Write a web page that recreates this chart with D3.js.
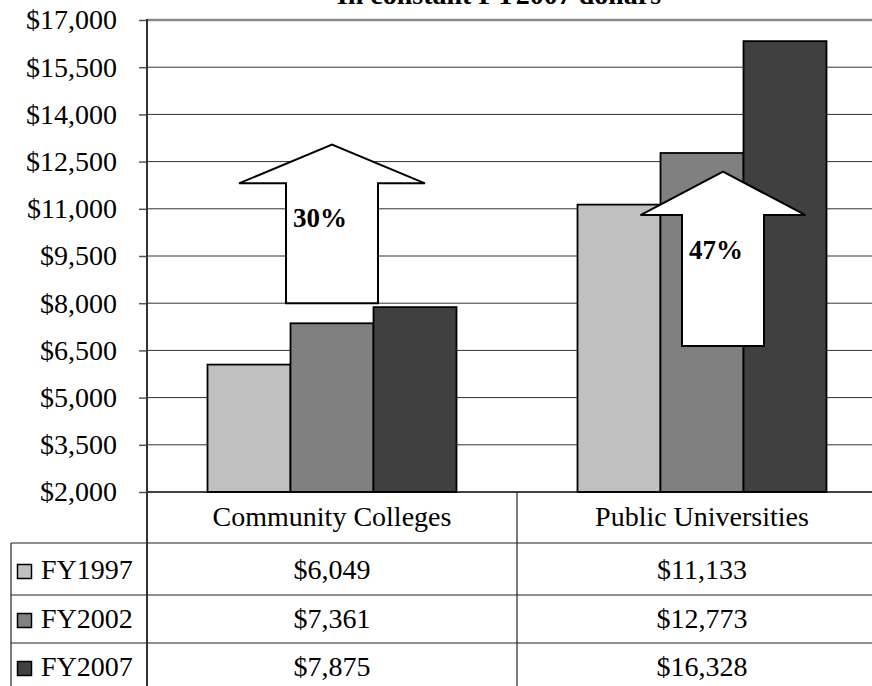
<!DOCTYPE html>
<html>
<head>
<meta charset="utf-8">
<script src="https://cdn.jsdelivr.net/npm/d3@7"></script>
<style>
  html, body { margin: 0; padding: 0; background: #fff; overflow: hidden; }
  svg { display: block; font-family: "Liberation Serif", "Times New Roman", serif; }
</style>
</head>
<body>
<svg id="chart" width="872" height="686"></svg>
<script>
// ---- data ----
const titleText = "In constant FY2007 dollars";
const categories = ["Community Colleges", "Public Universities"];
const seriesNames = ["FY1997", "FY2002", "FY2007"];
const fy1997 = [6049, 11133];
const fy2002 = [7361, 12773];
const fy2007 = [7875, 16328];
const yTicks = [2000, 3500, 5000, 6500, 8000, 9500, 11000, 12500, 14000, 15500, 17000];
const seriesColors = ["#c0c0c0", "#808080", "#404040"];

const seriesValues = [fy1997, fy2002, fy2007];

// ---- layout ----
const svg = d3.select("#chart");
const plotLeft = 147, plotRight = 887, plotTop = 20, plotBottom = 492;
const tableLeft = 11;
const rowTops = [543, 595, 643];
const rowBaselines = [579, 628, 676];
const fontSize = 28;

const x = d3.scaleBand().domain(categories).range([plotLeft, plotRight]).paddingInner(0).paddingOuter(0);
const xs = d3.scaleBand().domain(seriesNames).range([0, x.bandwidth()]).paddingInner(0).paddingOuter(0.729);
const y = d3.scaleLinear().domain([2000, 17000]).range([plotBottom, plotTop]);

// gridlines
svg.append("g").selectAll("line").data(yTicks.filter(t => t > 2000)).join("line")
  .attr("x1", plotLeft).attr("x2", plotRight)
  .attr("y1", d => y(d)).attr("y2", d => y(d))
  .attr("stroke", d => d === 17000 ? "#888" : "#333")
  .attr("stroke-width", d => d === 17000 ? 2.5 : 1);

// y axis
const yAxis = d3.axisLeft(y).tickValues(yTicks).tickSize(8).tickPadding(22)
  .tickFormat(d => "$" + d3.format(",")(d));
const gy = svg.append("g").attr("transform", `translate(${plotLeft},0)`).call(yAxis);
gy.select(".domain").remove();
gy.selectAll(".tick line").attr("stroke", "#555").attr("stroke-width", 1.5);
gy.selectAll(".tick text").attr("font-size", fontSize).attr("fill", "#000")
  .attr("font-family", "Liberation Serif, Times New Roman, serif");

// bars
const barData = [];
categories.forEach((c, ci) => seriesNames.forEach((s, si) => barData.push({c, s, si, v: seriesValues[si][ci]})));
svg.append("g").selectAll("rect").data(barData).join("rect")
  .attr("x", d => x(d.c) + xs(d.s))
  .attr("y", d => y(d.v))
  .attr("width", xs.bandwidth())
  .attr("height", d => y(2000) - y(d.v))
  .attr("fill", d => seriesColors[d.si])
  .attr("stroke", "#000").attr("stroke-width", 1.8);

// growth arrows (annotation, in data units)
const growth = categories.map((c, i) => Math.round((fy2007[i] - fy1997[i]) / fy1997[i] * 100) + "%");
const arrowSpec = [
  {base: 8000, tip: 13040, shoulder: 11810, dx: 0, shaft: 46, wing: 93},
  {base: 6640, tip: 12180, shoulder: 10800, dx: 21, shaft: 41, wing: 82.5}
];
categories.forEach((c, i) => {
  const a = arrowSpec[i];
  const cx = x(c) + x.bandwidth() / 2 + a.dx;
  const pts = [
    [cx - a.shaft, y(a.base)], [cx - a.shaft, y(a.shoulder)], [cx - a.wing, y(a.shoulder)],
    [cx, y(a.tip)], [cx + a.wing, y(a.shoulder)], [cx + a.shaft, y(a.shoulder)],
    [cx + a.shaft, y(a.base)]
  ];
  svg.append("path").attr("d", d3.line()(pts) + "Z")
    .attr("fill", "#fff").attr("stroke", "#000").attr("stroke-width", 2);
  svg.append("text").attr("x", cx - a.shaft + 7).attr("y", y(a.shoulder) + 44)
    .attr("font-size", 27).attr("font-weight", "bold").text(growth[i]);
});

// x axis line
svg.append("line").attr("x1", plotLeft).attr("x2", plotRight).attr("y1", plotBottom).attr("y2", plotBottom)
  .attr("stroke", "#000").attr("stroke-width", 1.5);
// left axis line (continues through the table)
svg.append("line").attr("x1", plotLeft).attr("x2", plotLeft).attr("y1", plotTop - 1).attr("y2", 686)
  .attr("stroke", "#333").attr("stroke-width", 2);

// ---- data table ----
svg.append("g").selectAll("text").data(categories).join("text")
  .attr("x", d => x(d) + x.bandwidth() / 2).attr("y", plotBottom + 34)
  .attr("text-anchor", "middle").attr("font-size", fontSize).text(d => d);
svg.append("g").selectAll("line").data(seriesNames).join("line")
  .attr("x1", tableLeft).attr("x2", plotRight)
  .attr("y1", (d, i) => rowTops[i]).attr("y2", (d, i) => rowTops[i])
  .attr("stroke", "#222").attr("stroke-width", 1.2);
svg.append("line").attr("x1", tableLeft).attr("x2", tableLeft).attr("y1", rowTops[0]).attr("y2", 686)
  .attr("stroke", "#222").attr("stroke-width", 1.2);
svg.append("line").attr("x1", x(categories[1])).attr("x2", x(categories[1])).attr("y1", plotBottom).attr("y2", 686)
  .attr("stroke", "#222").attr("stroke-width", 1.2);
seriesNames.forEach((s, i) => {
  const base = rowBaselines[i];
  svg.append("rect").attr("x", 17.5).attr("y", base - 14.5).attr("width", 14).attr("height", 14)
    .attr("fill", seriesColors[i]).attr("stroke", "#000").attr("stroke-width", 1.5);
  svg.append("text").attr("x", 41).attr("y", base).attr("font-size", fontSize).text(s);
  svg.append("g").selectAll("text").data(categories).join("text")
    .attr("x", d => x(d) + x.bandwidth() / 2).attr("y", base)
    .attr("text-anchor", "middle").attr("font-size", fontSize)
    .text((d, ci) => "$" + d3.format(",")(seriesValues[i][ci]));
});

// title (cut off at top, as in the reference)
svg.append("text").attr("x", 499).attr("y", 4).attr("text-anchor", "middle")
  .attr("font-size", fontSize).attr("font-weight", "bold").text(titleText);
</script>
</body>
</html>
